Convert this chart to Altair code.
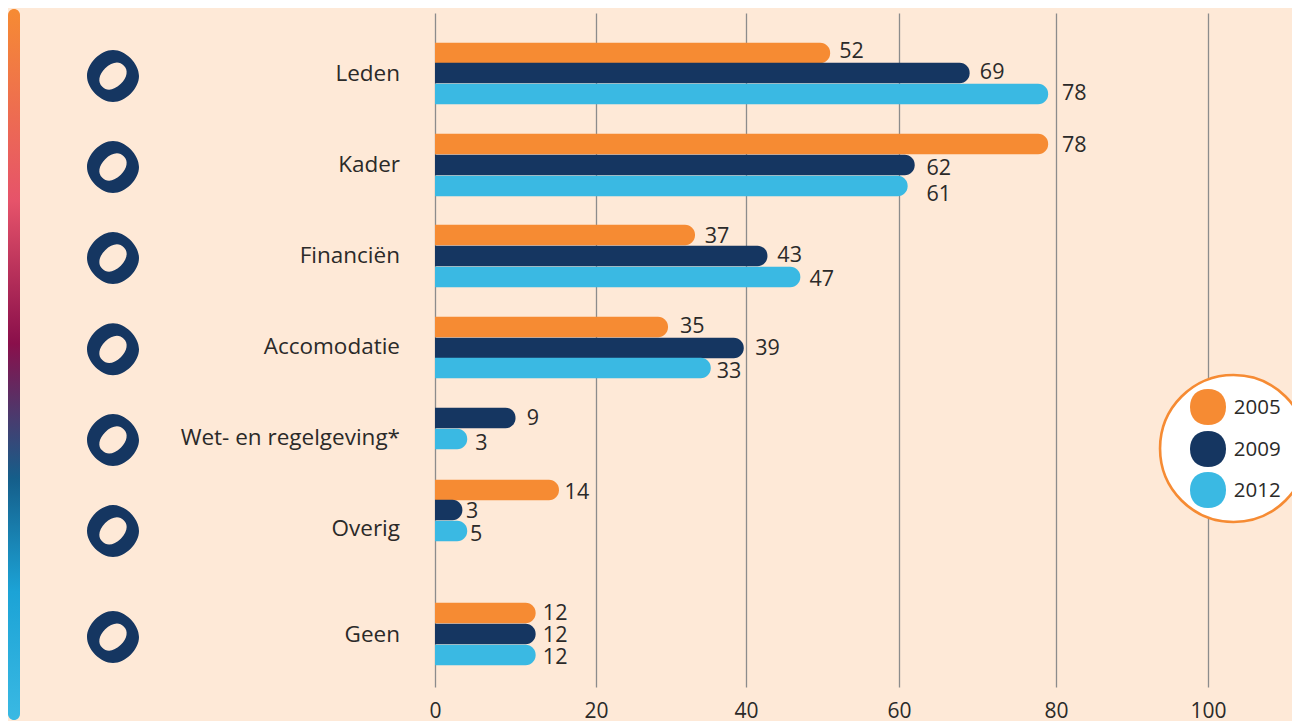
import altair as alt
import pandas as pd

categories = ["Leden", "Kader", "Financiën", "Accomodatie", "Wet- en regelgeving*", "Overig", "Geen"]
years = ["2005", "2009", "2012"]
# printed labels
labels_2005 = [52, 78, 37, 35, None, 14, 12]
labels_2009 = [69, 62, 43, 39, 9, 3, 12]
labels_2012 = [78, 61, 47, 33, 3, 5, 12]
# drawn bar lengths as read against the axis
bars_2005 = [51, 79, 33.2, 29.6, None, 15.4, 12.5]
bars_2009 = [69, 62, 42.8, 39.7, 10, 3.4, 12.5]
bars_2012 = [79, 61.1, 47.1, 35.3, 4, 4, 12.5]
# where each printed label begins, in axis units
label_at_2005 = [52.2, 80.8, 34.5, 31.2, None, 16.1, 13.4]
label_at_2009 = [70.3, 63.5, 44.1, 41.2, 11.4, 3.85, 13.4]
label_at_2012 = [80.8, 63.5, 48.3, 36.1, 5, 4.35, 13.4]
label_shift_2005 = [-0.05, 0.1, 0.09, 0.0, 0, 0.15, 0.05]
label_shift_2009 = [0, 0.2, 0, 0.05, 0.05, 0.1, 0.1]
label_shift_2012 = [0, 0.18, 0.05, 0.15, 0.1, 0.05, 0.2]
category_rows = [1.05, 4, 7, 9.97, 13.95, 16.9, 19.05]
tick_values = [0, 20, 40, 60, 80, 100]

BG = "#FEE9D7"
ORANGE = "#F68B33"
NAVY = "#153661"
CYAN = "#3AB9E3"
INK = "#2B2A29"
GRID = "#8C8C8C"
FONT = "Open Sans"
year_colors = [ORANGE, NAVY, CYAN]

rows = []
series = zip(years,
             [bars_2005, bars_2009, bars_2012],
             [labels_2005, labels_2009, labels_2012],
             [label_at_2005, label_at_2009, label_at_2012],
             [label_shift_2005, label_shift_2009, label_shift_2012])
for j, (yr, b, l, a, s) in enumerate(series):
    for i, cat in enumerate(categories):
        if b[i] is None:
            continue
        row = i * 3 + j
        rows.append(dict(cat=cat, year=yr, bar=b[i], label=str(l[i]), at=a[i],
                         row=row, label_row=row + s[i]))
df = pd.DataFrame(rows)
cats = pd.DataFrame(dict(cat=categories, row=category_rows))
legend = pd.DataFrame(dict(year=years, x=[100, 100, 100], tx=[103.4] * 3,
                           py=[394, 436, 477]))

x_scale = alt.Scale(domain=tick_values, range=[0, 161, 311, 464, 621, 773], nice=False, zero=False)
y_scale = alt.Scale(domain=[-2] + list(range(21)) + [22],
                    range=[0, 40, 60, 81, 131, 152, 173, 222, 243, 264, 314, 335, 355,
                           384, 405, 426, 477, 497, 518, 600, 621, 642, 674],
                    nice=False, zero=False)
color_scale = alt.Scale(domain=years, range=year_colors)
x_axis = alt.Axis(values=tick_values, grid=True, gridColor=GRID, gridWidth=1.3,
                  domain=False, ticks=False, labelFontSize=21, labelFont=FONT,
                  labelColor=INK, labelPadding=13, labelFlush=False, format="d", title=None)

bars = alt.Chart(df).mark_bar(orient="horizontal", height=20.6, cornerRadiusEnd=10).encode(
    x=alt.X("bar:Q", scale=x_scale, stack=None, axis=x_axis),
    y=alt.Y("row:Q", scale=y_scale, axis=None),
    color=alt.Color("year:N", scale=color_scale, legend=None),
)

values = alt.Chart(df).mark_text(align="left", baseline="middle", font=FONT, fontSize=21.5, color=INK).encode(
    x=alt.X("at:Q", scale=x_scale, axis=x_axis),
    y=alt.Y("label_row:Q", scale=y_scale, axis=None),
    text="label:N",
)

cat_text = alt.Chart(cats).mark_text(align="right", baseline="middle", font=FONT, fontSize=22.5, color=INK).encode(
    x=alt.value(-35),
    y=alt.Y("row:Q", scale=y_scale, axis=None),
    text="cat:N",
)

# blob icon, drawn as outer contour and opposite-wound hole
k = 0.48
outer = (f"M0,-1 C{k},-1 1,{-k} 1,0 C1,{k} {k},1 0,1 C{-k},1 -1,{k} -1,0 C-1,{-k} {-k},-1 0,-1 Z")
hole = ("M0.41,-0.41 C0.24,-0.60 -0.05,-0.55 -0.30,-0.30 C-0.55,-0.05 -0.60,0.24 -0.41,0.41 "
        "C-0.24,0.60 0.05,0.55 0.30,0.30 C0.55,0.05 0.60,-0.24 0.41,-0.41 Z")
icons = alt.Chart(cats).mark_point(shape=outer + " " + hole, filled=True, fill=NAVY, size=2704, opacity=1, yOffset=2).encode(
    x=alt.value(-322),
    y=alt.Y("row:Q", scale=y_scale, axis=None),
)

strip = alt.Chart(pd.DataFrame({"k": [0]})).mark_bar(
    cornerRadius=6,
    color=alt.LinearGradient(gradient="linear", x1=0, x2=0, y1=0, y2=1, stops=[
        alt.GradientStop(color=ORANGE, offset=0.0),
        alt.GradientStop(color="#E6536A", offset=0.27),
        alt.GradientStop(color="#8A0F4B", offset=0.47),
        alt.GradientStop(color="#155E8A", offset=0.66),
        alt.GradientStop(color="#1CA3D6", offset=0.82),
        alt.GradientStop(color=CYAN, offset=1.0),
    ]),
).encode(x=alt.value(-427), x2=alt.value(-415), y=alt.value(-4), y2=alt.value(707))

badge = alt.Chart(pd.DataFrame({"x": [103.36]})).mark_point(
    shape="circle", filled=True, fill="#FFFFFF", stroke=ORANGE, strokeWidth=2.6, size=21609, opacity=1
).encode(x=alt.X("x:Q", scale=x_scale, axis=x_axis), y=alt.value(435.5))

swatches = alt.Chart(legend).mark_point(
    shape="M0,-1 C0.62,-1 1,-0.62 1,0 C1,0.62 0.62,1 0,1 C-0.62,1 -1,0.62 -1,0 C-1,-0.62 -0.62,-1 0,-1 Z",
    filled=True, size=1296, opacity=1
).encode(
    x=alt.X("x:Q", scale=x_scale, axis=x_axis),
    y=alt.Y("py:Q", scale=None, axis=None),
    color=alt.Color("year:N", scale=color_scale, legend=None),
)
swatch_text = alt.Chart(legend).mark_text(align="left", baseline="middle", font=FONT, fontSize=20.5, color=INK, dy=1).encode(
    x=alt.X("tx:Q", scale=x_scale, axis=x_axis),
    y=alt.Y("py:Q", scale=None, axis=None),
    text="year:N",
)

chart = alt.layer(bars, values, cat_text, icons, strip, badge, swatches, swatch_text).properties(
    width=773, height=674, background=BG,
    padding={"left": 427, "top": 5, "right": 84, "bottom": 34},
    autosize=alt.AutoSizeParams(type="none"),
).configure_view(stroke=None)

chart.save("out.html", embed_options={"renderer": "svg", "actions": False})
